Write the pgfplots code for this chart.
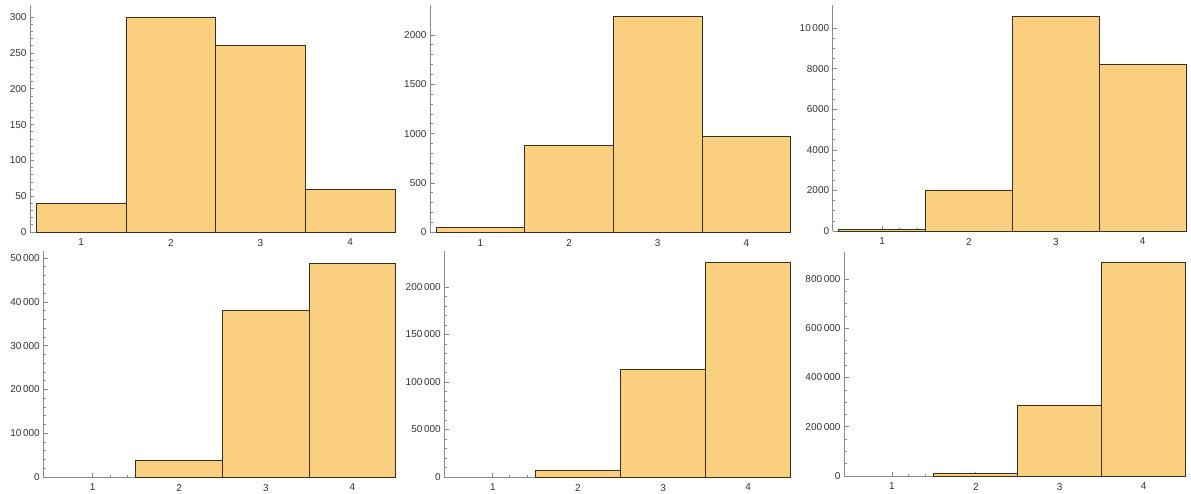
\documentclass[border=0pt]{standalone}
\usepackage{pgfplots}
\pgfplotsset{compat=1.18}
\usepackage{fontspec}
\setmainfont{Liberation Sans}
\definecolor{barfill}{HTML}{FBCF80}
\definecolor{baredge}{HTML}{3A2E1C}
\definecolor{axgray}{HTML}{8A8A8A}
\definecolor{lblgray}{HTML}{333333}
\pgfplotsset{
  hist/.style={
    scale only axis,
    anchor=south west,
    axis lines=left,
    axis line style={-, draw=axgray, line width=0.8pt},
    xmin=0.43, xmax=4.5, ymin=0,
    xtick={1,2,3,4}, xticklabels={1,2,3,4},
    minor x tick num=4,
    scaled y ticks=false, scaled x ticks=false,
    tick align=inside,
    major tick length=4.5pt, minor tick length=2.5pt,
    tick style={draw=axgray, line width=0.7pt},
    tick label style={font=\fontsize{10}{12}\selectfont, text=lblgray},
    xticklabel style={yshift=-3.5pt},
    clip=false,
  },
  bars/.style={ybar, bar width=1, bar shift=0pt, fill=barfill, draw=baredge, line width=0.9pt},
}
\begin{document}
\begin{tikzpicture}
\useasboundingbox (0,0) rectangle (1191pt,493pt);
% top-left
\begin{axis}[hist, at={(30pt,261pt)}, width=365pt, height=227pt, ymax=317,
  ytick={0,50,100,150,200,250,300}, yticklabels={0,50,100,150,200,250,300}, minor y tick num=4]
\addplot[bars] coordinates {(1,40) (2,300) (3,260) (4,60)};
\end{axis}
% top-middle
\begin{axis}[hist, at={(430pt,260.7pt)}, width=360.7pt, height=227.3pt, ymax=2303,
  ytick={0,500,1000,1500,2000}, yticklabels={0,500,1000,1500,2000}, minor y tick num=4]
\addplot[bars] coordinates {(1,47) (2,880) (3,2185) (4,968)};
\end{axis}
% top-right
\begin{axis}[hist, at={(832.7pt,262pt)}, width=353.3pt, height=226pt, ymax=11150,
  ytick={0,2000,4000,6000,8000,10000}, yticklabels={0,2000,4000,6000,8000,10\,000}, minor y tick num=3]
\addplot[bars] coordinates {(1,85) (2,1995) (3,10605) (4,8240)};
\end{axis}
% bottom-left
\begin{axis}[hist, at={(43.3pt,16pt)}, width=352.4pt, height=225.5pt, ymax=51500,
  ytick={0,10000,20000,30000,40000,50000}, yticklabels={0,10\,000,20\,000,30\,000,40\,000,50\,000}, minor y tick num=4]
\addplot[bars] coordinates {(2,3870) (3,38040) (4,48750)};
\end{axis}
% bottom-middle
\begin{axis}[hist, at={(444.3pt,16pt)}, width=346.4pt, height=225.6pt, ymax=237500,
  ytick={0,50000,100000,150000,200000}, yticklabels={0,50\,000,100\,000,150\,000,200\,000}, minor y tick num=4]
\addplot[bars] coordinates {(2,7000) (3,112900) (4,226300)};
\end{axis}
% bottom-right
\begin{axis}[hist, at={(844pt,17pt)}, width=341.7pt, height=224pt, ymax=910000,
  ytick={0,200000,400000,600000,800000}, yticklabels={0,200\,000,400\,000,600\,000,800\,000}, minor y tick num=3]
\addplot[bars] coordinates {(2,12200) (3,288600) (4,868700)};
\end{axis}
\end{tikzpicture}
\end{document}
